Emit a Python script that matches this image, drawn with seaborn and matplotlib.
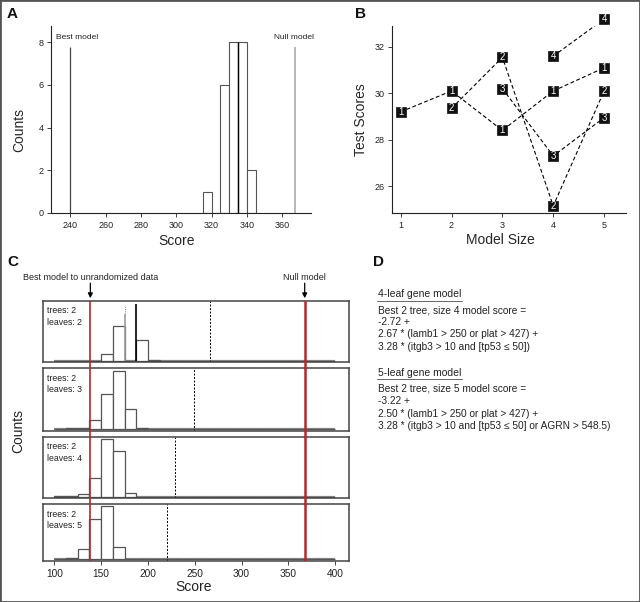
"""
plot.py
=======
Permutation scores (A), test scores by model size (B), permuted score
histograms per leaf count (C) and the selected gene models (D).
"""

import numpy as np
import pandas as pd
import matplotlib
matplotlib.use("Agg")
import matplotlib.pyplot as plt
import seaborn as sns
from matplotlib import font_manager
from matplotlib.lines import Line2D
from matplotlib.patches import Rectangle

# ── Data ───────────────────────────────────────────────────────────────────
# Panel A: histogram of permuted scores
A_EDGES  = [315, 320, 325, 330, 335, 340, 345]
A_COUNTS = [1, 0, 6, 8, 8, 2]
A_BEST   = 239.5
A_NULL   = 367.4
A_MID    = 335
A_XTICKS = [240, 260, 280, 300, 320, 340, 360]
A_YTICKS = [0, 2, 4, 6, 8]

# Panel B: test score per model size, one series per number of trees
B_TREE1_X = [1, 2, 3, 4, 5]
B_TREE1_Y = [29.2, 30.1, 28.4, 30.1, 31.1]
B_TREE2_X = [2, 3, 4, 5]
B_TREE2_Y = [29.35, 31.55, 25.15, 30.1]
B_TREE3_X = [3, 4, 5]
B_TREE3_Y = [30.2, 27.3, 28.95]
B_TREE4_X = [4, 5]
B_TREE4_Y = [31.6, 33.2]
B_YTICKS  = [26, 28, 30, 32]

# Panel C: permuted score histograms (bins of 12.5 from 100 to 400)
C_EDGES   = [float(e) for e in np.arange(100, 400.1, 12.5)]
C_LEAVES  = [2, 3, 4, 5]
C_COUNTS_L2 = [0, 0, 0, 0, 6.7, 34.3, 0, 21, 1, 0, 0, 0,
               0, 0, 0, 0, 0, 0, 0, 0, 0, 0, 0, 0]
C_COUNTS_L3 = [0.4, 0.6, 1, 9.5, 35.5, 58.5, 20.5, 1.2, 0, 0, 0, 0,
               0, 0, 0, 0, 0, 0, 0, 0, 0, 0, 0, 0]
C_COUNTS_L4 = [0.3, 0.5, 2.3, 18.3, 57.7, 46, 4, 0, 0, 0, 0, 0,
               0, 0, 0, 0, 0, 0, 0, 0, 0, 0, 0, 0]
C_COUNTS_L5 = [0.3, 1, 10, 40, 53, 12, 0.5, 0, 0, 0, 0, 0,
               0, 0, 0, 0, 0, 0, 0, 0, 0, 0, 0, 0]
C_CUTOFF  = [266.7, 249, 229, 220.7]
C_SPIKE_X = [175, 187.5]
C_SPIKE_Y = [46.7, 56.7]
C_BEST    = 138.5
C_NULL    = 367.5
C_XTICKS  = [100, 150, 200, 250, 300, 350, 400]

# Panel D: model formulas
D_BLOCKS = [
    ("4-leaf gene model",
     ["Best 2 tree, size 4 model score =",
      "-2.72 +",
      "2.67 * (lamb1 > 250 or plat > 427) +",
      "3.28 * (itgb3 > 10 and [tp53 \u2264 50])"]),
    ("5-leaf gene model",
     ["Best 2 tree, size 5 model score =",
      "-3.22 +",
      "2.50 * (lamb1 > 250 or plat > 427) +",
      "3.28 * (itgb3 > 10 and [tp53 \u2264 50] or AGRN > 548.5)"]),
]

# ── Style ──────────────────────────────────────────────────────────────────
W, H = 640, 602
RED  = "#b22a2e"
INK  = "#222222"
EDGE = "#555555"

sns.set_style("ticks")
_names = {f.name for f in font_manager.fontManager.ttflist}
NARROW = "Liberation Sans Narrow" if "Liberation Sans Narrow" in _names else "Liberation Sans"
plt.rcParams["font.family"] = ["Liberation Sans", "DejaVu Sans"]
plt.rcParams["axes.edgecolor"] = INK
plt.rcParams["axes.linewidth"] = 0.8
plt.rcParams["xtick.color"] = INK
plt.rcParams["ytick.color"] = INK


def px_rect(x0, y0, x1, y1):
    """Pixel box (top-left origin) -> figure-fraction rect."""
    return [x0 / W, 1 - y1 / H, (x1 - x0) / W, (y1 - y0) / H]


def fx(x):
    return x / W


def fy(y):
    return 1 - y / H


def style_ticks(ax):
    ax.tick_params(length=3, width=0.6, labelsize=6.5, pad=2.5)


fig = plt.figure(figsize=(W / 100, H / 100), dpi=100, facecolor="white")

# ══════════════════════════════════════════════════════════════════════════
# A
# ══════════════════════════════════════════════════════════════════════════
axA = fig.add_axes(px_rect(51, 26, 311, 213))
a_centers = [(A_EDGES[i] + A_EDGES[i + 1]) / 2 for i in range(len(A_COUNTS))]
sns.histplot(x=a_centers, weights=A_COUNTS, bins=A_EDGES, ax=axA,
             color="white", edgecolor=EDGE, linewidth=0.8, alpha=1)
axA.vlines(A_MID, 0, max(A_COUNTS), color="black", lw=1.0)
axA.vlines(A_BEST, 0, 7.78, color="#444444", lw=0.9)
axA.vlines(A_NULL, 0, 7.78, color="#aaaaaa", lw=1.2)
axA.text(244, 8.2, "Best model", ha="center", va="center", fontsize=6, color=INK)
axA.text(A_NULL - 0.5, 8.2, "Null model", ha="center", va="center", fontsize=6, color=INK)
axA.set_xlim(229, 376.4)
axA.set_ylim(0, 8.75)
axA.set_xticks(A_XTICKS)
axA.set_yticks(A_YTICKS)
axA.set_xlabel("Score", fontsize=10, family=NARROW, va="center")
axA.set_ylabel("Counts", fontsize=10, family=NARROW, va="center")
axA.xaxis.set_label_coords(0.483, -0.148)
axA.yaxis.set_label_coords(-0.122, 0.444)
axA.spines[["top", "right"]].set_visible(False)
style_ticks(axA)

# ══════════════════════════════════════════════════════════════════════════
# B
# ══════════════════════════════════════════════════════════════════════════
axB = fig.add_axes(px_rect(392, 26, 626, 213))
series = [(1, B_TREE1_X, B_TREE1_Y), (2, B_TREE2_X, B_TREE2_Y),
          (3, B_TREE3_X, B_TREE3_Y), (4, B_TREE4_X, B_TREE4_Y)]
dfB = pd.concat([pd.DataFrame({"size": xs, "score": ys, "trees": t})
                 for t, xs, ys in series], ignore_index=True)
sns.lineplot(data=dfB, x="size", y="score", units="trees", estimator=None,
             sort=False, color="black", lw=0.8, linestyle=(0, (3.5, 2.2)),
             ax=axB, legend=False)
sns.scatterplot(data=dfB, x="size", y="score", marker="s", s=56,
                color="#111111", edgecolor="#111111", linewidth=0.5,
                ax=axB, legend=False, zorder=3, clip_on=False)
for _, r in dfB.iterrows():
    axB.text(r["size"], r["score"], str(int(r["trees"])), color="white",
             ha="center", va="center", fontsize=7, zorder=4, clip_on=False)
axB.set_xlim(0.83, 5.43)
axB.set_ylim(24.84, 32.9)
axB.set_xticks([1, 2, 3, 4, 5])
axB.set_yticks(B_YTICKS)
axB.set_xlabel("Model Size", fontsize=10, family=NARROW, va="center")
axB.set_ylabel("Test Scores", fontsize=10, family=NARROW, va="center")
axB.xaxis.set_label_coords(0.4615, -0.144)
axB.yaxis.set_label_coords(-0.1325, 0.497)
axB.spines[["top", "right"]].set_visible(False)
style_ticks(axB)

# ══════════════════════════════════════════════════════════════════════════
# C
# ══════════════════════════════════════════════════════════════════════════
c_boxes = [(300.7, 362.3), (368.3, 430.7), (436.7, 498.3), (504.3, 561.0)]
c_counts = [C_COUNTS_L2, C_COUNTS_L3, C_COUNTS_L4, C_COUNTS_L5]
c_centers = [(C_EDGES[k] + C_EDGES[k + 1]) / 2 for k in range(len(C_EDGES) - 1)]
base = 1.6
GAP = 6.0
c_axes = []
for i, ((top, bot), counts, leaves) in enumerate(zip(c_boxes, c_counts, C_LEAVES)):
    ax = fig.add_axes(px_rect(42.7, top, 348.7, bot))
    ax.set_facecolor("none")
    hgt = bot - top
    ax.hlines(0, C_EDGES[0], C_EDGES[-1], color="#8a8a8a", lw=1.6, zorder=1)
    sns.histplot(x=c_centers, weights=counts, bins=C_EDGES, ax=ax,
                 color="white", edgecolor=EDGE, linewidth=0.9, alpha=1, zorder=2)
    if i == 0:
        ax.vlines(C_SPIKE_X[0], 0, C_SPIKE_Y[0], color="#999999", lw=1.2, zorder=3)
        ax.vlines(C_SPIKE_X[0], C_SPIKE_Y[0], 55, color="#999999", lw=0.8,
                  linestyle=(0, (1, 1)), zorder=3)
        ax.vlines(C_SPIKE_X[1], 0, C_SPIKE_Y[1], color="black", lw=1.2, zorder=3)
    ax.axvline(C_CUTOFF[i], color="black", lw=0.7, linestyle=(0, (2, 1.6)))
    for xv, lw in ((C_BEST, 1.2), (C_NULL, 1.8)):
        ax.axvline(xv, color=RED, lw=lw, zorder=5)
        if i > 0:
            # bridge the gap to the panel above
            ax.axvline(xv, ymin=1, ymax=1 + GAP / hgt, color=RED, lw=lw,
                       zorder=5, clip_on=False)
    # label block centred ~15.7 px below the box top
    ax.text(0.015, 1 - 15.7 / hgt, f"trees: 2\nleaves: {leaves}",
            transform=ax.transAxes, ha="left", va="center", fontsize=6.3,
            color=INK, linespacing=1.4)
    ax.set_xlim(87.6, 414.5)
    ax.set_ylim(-base, hgt - base)
    ax.set_yticks([])
    ax.set_ylabel("")
    ax.set_xlabel("")
    for s in ax.spines.values():
        s.set_color("#444444")
        s.set_linewidth(1.1)
    style_ticks(ax)
    if i < 3:
        ax.set_xticks([])
    else:
        ax.set_xticks(C_XTICKS)
        ax.tick_params(labelsize=7.3)
    c_axes.append(ax)

# arrows and captions above the first histogram
axC1 = c_axes[0]
h1 = c_boxes[0][1] - c_boxes[0][0]
for xv, label in ((C_BEST, "Best model to unrandomized data"), (C_NULL, "Null model")):
    axC1.annotate("", xy=(xv, 1 + 2.5 / h1), xytext=(xv, 1 + 17.5 / h1),
                  xycoords=axC1.get_xaxis_transform(),
                  textcoords=axC1.get_xaxis_transform(),
                  arrowprops=dict(arrowstyle="-|>", color="black", lw=0.9,
                                  mutation_scale=7, shrinkA=0, shrinkB=0))
    axC1.text(xv, 1 + 22.7 / h1, label, transform=axC1.get_xaxis_transform(),
              ha="center", va="center", fontsize=6.5, color=INK)

fig.text(fx(18), fy(431), "Counts", rotation=90, ha="center", va="center",
         fontsize=10, family=NARROW, color=INK)
fig.text(fx(194), fy(586.7), "Score", ha="center", va="center",
         fontsize=10, family=NARROW, color=INK)

# ══════════════════════════════════════════════════════════════════════════
# D
# ══════════════════════════════════════════════════════════════════════════
head_y = [294.3, 372.7]
body_y = [[310.7, 322.0, 334.0, 347.3], [388.3, 401.3, 413.7, 425.7]]
heads = []
for (head, lines), hy, bys in zip(D_BLOCKS, head_y, body_y):
    t = fig.text(fx(377.7), fy(hy), head, ha="left", va="center",
                 fontsize=7.5, color=INK)
    heads.append((t, hy))
    for line, by in zip(lines, bys):
        fig.text(fx(377.7), fy(by), line, ha="left", va="center",
                 fontsize=7.3, color=INK)

fig.canvas.draw()
for t, hy in heads:
    bb = t.get_window_extent()
    fig.lines.append(Line2D([fx(bb.x0 - 0.5), fx(bb.x1 + 0.5)],
                            [fy(hy + 6.4), fy(hy + 6.4)],
                            transform=fig.transFigure, color="#666666", lw=0.7))

# ── Panel letters and outer frame ──────────────────────────────────────────
for x, y, s in ((7, 14.5, "A"), (355, 14.5, "B"), (7, 262, "C"), (373, 262, "D")):
    fig.text(fx(x), fy(y), s, ha="left", va="center", fontsize=11,
             fontweight="bold", color="#111111")

fig.patches.append(Rectangle((0, 0), 1, 1, transform=fig.transFigure,
                             fill=False, edgecolor="#555555", lw=2))

fig.savefig("out.png", dpi=100, facecolor="white")
plt.close(fig)
